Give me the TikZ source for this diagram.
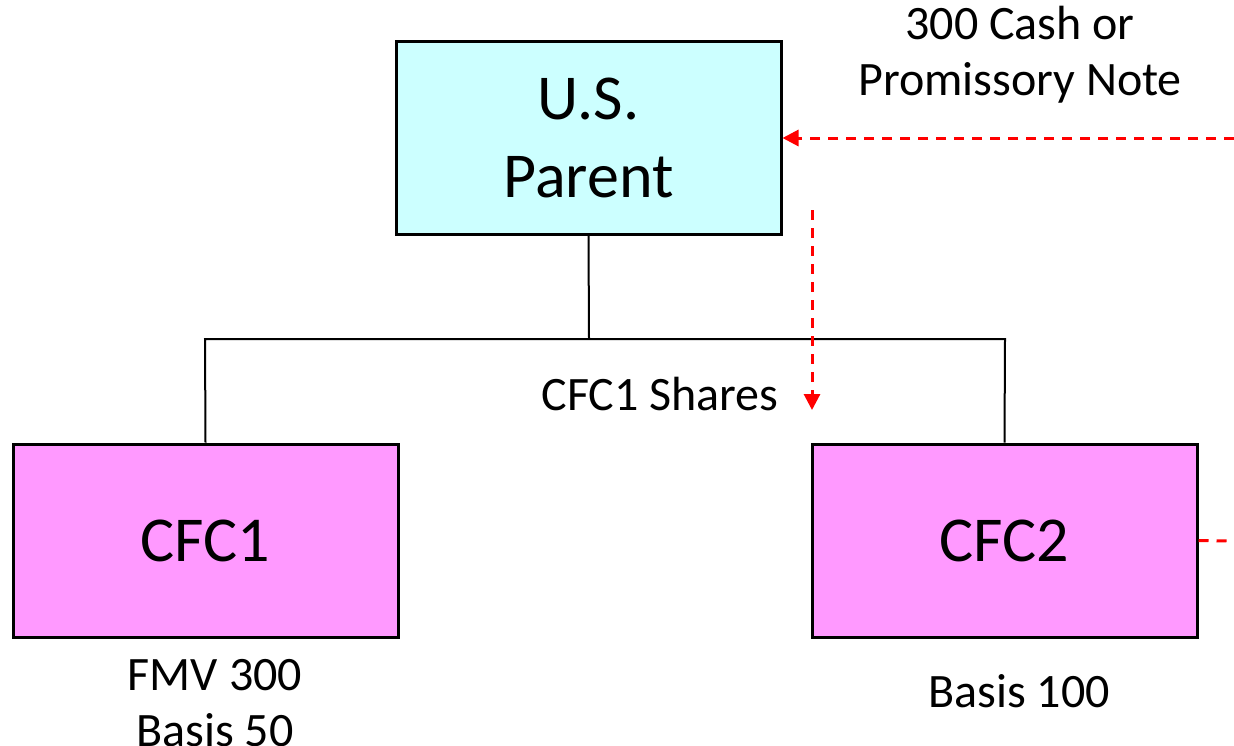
\documentclass[tikz,border=0pt]{standalone}
\usepackage{fontspec}
\setmainfont{Carlito}
\usetikzlibrary{arrows.meta}
\definecolor{parentfill}{HTML}{CCFFFF}
\definecolor{cfcfill}{HTML}{FF99FF}
\begin{document}
\begin{tikzpicture}[x=1pt,y=-1pt,
  entity/.style={draw=black,line width=3pt,minimum width=385pt,minimum height=193pt,inner sep=0pt,align=center,font=\fontsize{64}{78}\selectfont},
  label/.style={align=center,inner sep=0pt,font=\fontsize{48}{56}\selectfont},
  tree/.style={draw=black,line width=2pt},
  flow/.style={draw=red,line width=3pt,dash pattern=on 10pt off 8pt},
  flowarrow/.style={flow,-{Triangle[length=16pt,width=16pt]}}]
\useasboundingbox (0,0) rectangle (1234,745);
\node[entity,fill=parentfill] (parent) at (588.5,137.5) {U.S.\\Parent};
\node[entity,fill=cfcfill] (cfc1) at (205.5,540.5) {CFC1};
\node[entity,fill=cfcfill] (cfc2) at (1004.5,540.5) {CFC2};
\coordinate (branch) at (589,339);
\coordinate (bl) at (205,339);
\coordinate (br) at (1005,339);
\draw[tree] (parent.south) -- (branch);
\draw[tree] (cfc1.north) -- (bl) -- (br) -- (cfc2.north);
\node[label] (cash) at (1020,55) {300 Cash or\\Promissory Note};
\node[label] (shares) at (660,394) {CFC1 Shares};
\node[label] (fmv) at (215,703) {FMV 300\\Basis 50};
\node[label] (basis2) at (1019,691) {Basis 100};
\coordinate (inright) at (1234,138);
\coordinate (outright) at (1234,541);
\coordinate (dtop) at (812,210);
\coordinate (dbot) at (812,410);
\draw[flowarrow] (inright) -- (parent.east |- inright);
\draw[flowarrow] (dtop) -- (dbot);
\draw[flow] (cfc2.east) -- (outright);
\end{tikzpicture}
\end{document}
